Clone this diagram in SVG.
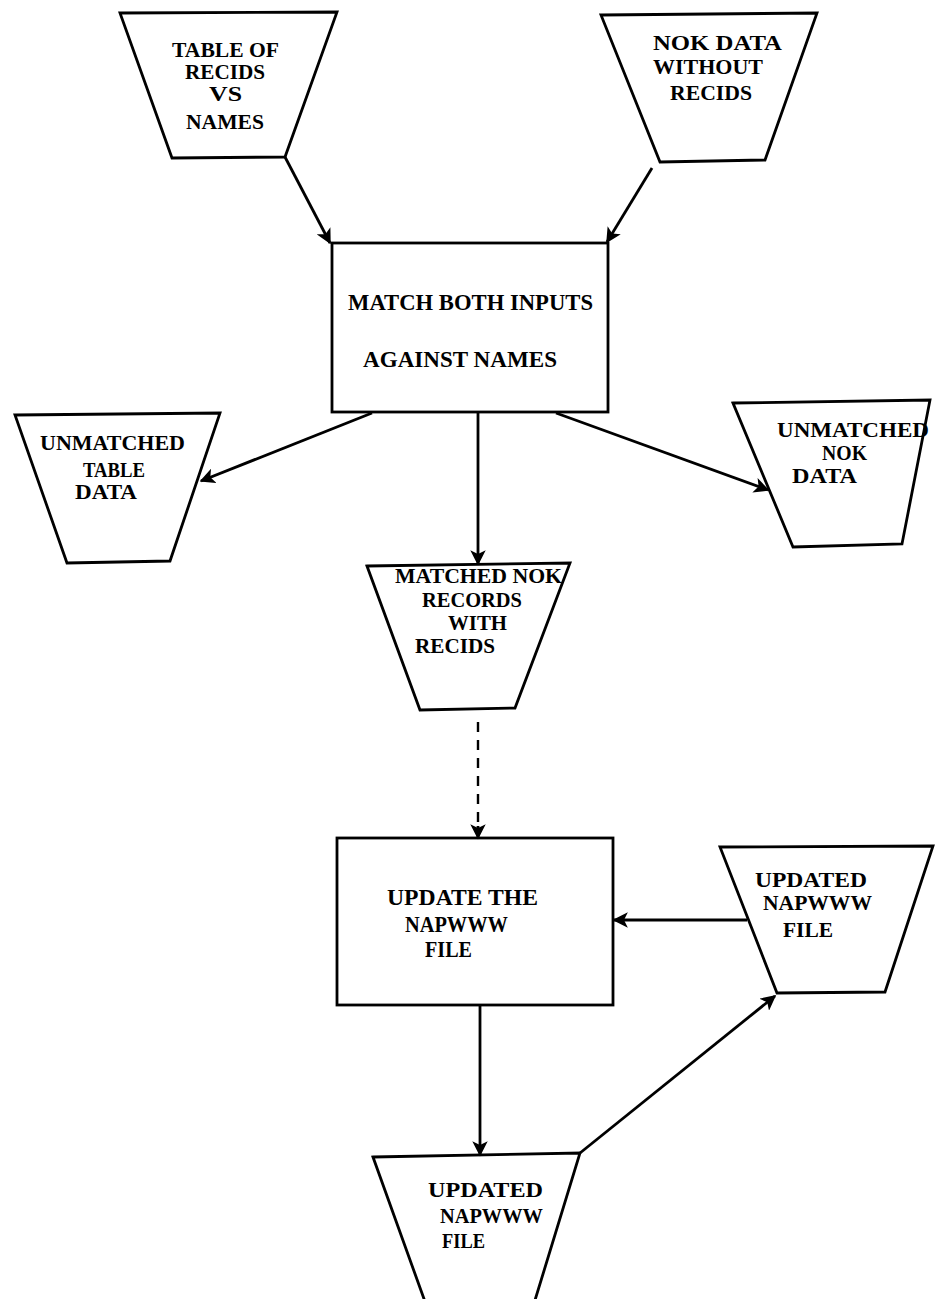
<svg xmlns="http://www.w3.org/2000/svg" width="937" height="1299" viewBox="0 0 937 1299">
<style>
.shape{fill:#fff;stroke:#000;stroke-width:2.8;stroke-linejoin:miter}
.lbl{font-family:"Liberation Serif","Times New Roman",serif;font-size:21px;font-weight:bold;fill:#000}
.big{font-size:23px}
.conn{stroke:#000;stroke-width:2.8;fill:none}
.dash{stroke:#000;stroke-width:2.4;fill:none;stroke-dasharray:10,8}
</style>
<defs>
<marker id="ah" viewBox="0 0 10 10" refX="9" refY="5" markerWidth="5.5" markerHeight="5.5" orient="auto" markerUnits="strokeWidth">
<path d="M0,0 L10,5 L0,10 L2.5,5 z" fill="#000"/>
</marker>
</defs>
<rect width="937" height="1299" fill="#fff"/>

<g id="n-table">
<polygon class="shape" points="120,13 337,12 285,157 172,158"/>
<text class="lbl" x="172" y="57" textLength="107" lengthAdjust="spacingAndGlyphs">TABLE OF</text>
<text class="lbl" x="185" y="79" textLength="80" lengthAdjust="spacingAndGlyphs">RECIDS</text>
<text class="lbl" x="209" y="101" textLength="33" lengthAdjust="spacingAndGlyphs">VS</text>
<text class="lbl" x="186" y="129" textLength="78" lengthAdjust="spacingAndGlyphs">NAMES</text>
</g>

<g id="n-nok">
<polygon class="shape" points="601,15 817,13 765,160 660,162"/>
<text class="lbl" x="653" y="50" textLength="129" lengthAdjust="spacingAndGlyphs">NOK DATA</text>
<text class="lbl" x="653" y="74" textLength="110" lengthAdjust="spacingAndGlyphs">WITHOUT</text>
<text class="lbl" x="670" y="100" textLength="82" lengthAdjust="spacingAndGlyphs">RECIDS</text>
</g>

<g id="p-match">
<rect class="shape" x="332" y="243" width="276" height="169"/>
<text class="lbl big" x="348" y="310" textLength="245" lengthAdjust="spacingAndGlyphs">MATCH BOTH INPUTS</text>
<text class="lbl big" x="363" y="367" textLength="194" lengthAdjust="spacingAndGlyphs">AGAINST NAMES</text>
</g>

<g id="n-unm-table">
<polygon class="shape" points="15,415 220,413 170,561 67,563"/>
<text class="lbl" x="40" y="450" textLength="145" lengthAdjust="spacingAndGlyphs">UNMATCHED</text>
<text class="lbl" x="83" y="477" textLength="62" lengthAdjust="spacingAndGlyphs">TABLE</text>
<text class="lbl" x="75" y="499" textLength="62" lengthAdjust="spacingAndGlyphs">DATA</text>
</g>

<g id="n-unm-nok">
<polygon class="shape" points="733,403 930,400 902,544 793,547"/>
<text class="lbl" x="777" y="437" textLength="152" lengthAdjust="spacingAndGlyphs">UNMATCHED</text>
<text class="lbl" x="822" y="460" textLength="45" lengthAdjust="spacingAndGlyphs">NOK</text>
<text class="lbl" x="792" y="483" textLength="65" lengthAdjust="spacingAndGlyphs">DATA</text>
</g>

<g id="n-matched">
<polygon class="shape" points="367,566 570,563 515,708 420,710"/>
<text class="lbl" x="395" y="583" textLength="167" lengthAdjust="spacingAndGlyphs">MATCHED NOK</text>
<text class="lbl" x="422" y="607" textLength="100" lengthAdjust="spacingAndGlyphs">RECORDS</text>
<text class="lbl" x="448" y="630" textLength="59" lengthAdjust="spacingAndGlyphs">WITH</text>
<text class="lbl" x="415" y="653" textLength="80" lengthAdjust="spacingAndGlyphs">RECIDS</text>
</g>

<g id="p-update">
<rect class="shape" x="337" y="838" width="276" height="167"/>
<text class="lbl big" x="387" y="905" textLength="151" lengthAdjust="spacingAndGlyphs">UPDATE THE</text>
<text class="lbl big" x="405" y="932" textLength="103" lengthAdjust="spacingAndGlyphs">NAPWWW</text>
<text class="lbl big" x="425" y="957" textLength="47" lengthAdjust="spacingAndGlyphs">FILE</text>
</g>

<g id="n-upd-right">
<polygon class="shape" points="720,847 933,846 885,992 777,993"/>
<text class="lbl" x="755" y="887" textLength="112" lengthAdjust="spacingAndGlyphs">UPDATED</text>
<text class="lbl" x="763" y="910" textLength="109" lengthAdjust="spacingAndGlyphs">NAPWWW</text>
<text class="lbl" x="783" y="937" textLength="50" lengthAdjust="spacingAndGlyphs">FILE</text>
</g>

<g id="n-upd-bottom">
<polygon class="shape" points="373,1157 580,1153 532,1310 428,1310"/>
<text class="lbl" x="428" y="1197" textLength="115" lengthAdjust="spacingAndGlyphs">UPDATED</text>
<text class="lbl" x="440" y="1223" textLength="103" lengthAdjust="spacingAndGlyphs">NAPWWW</text>
<text class="lbl" x="442" y="1248" textLength="43" lengthAdjust="spacingAndGlyphs">FILE</text>
</g>

<g id="connectors">
<line class="conn" x1="285" y1="157" x2="330" y2="243" marker-end="url(#ah)"/>
<line class="conn" x1="652" y1="168" x2="607" y2="242" marker-end="url(#ah)"/>
<line class="conn" x1="372" y1="413" x2="201" y2="481" marker-end="url(#ah)"/>
<line class="conn" x1="478" y1="412" x2="478" y2="564" marker-end="url(#ah)"/>
<line class="conn" x1="556" y1="413" x2="768" y2="490" marker-end="url(#ah)"/>
<line class="dash" x1="478" y1="722" x2="478" y2="828"/>
<line class="conn" x1="478" y1="826" x2="478" y2="838" marker-end="url(#ah)"/>
<line class="conn" x1="747" y1="920" x2="614" y2="920" marker-end="url(#ah)"/>
<line class="conn" x1="480" y1="1005" x2="480" y2="1155" marker-end="url(#ah)"/>
<line class="conn" x1="580" y1="1153" x2="775" y2="996" marker-end="url(#ah)"/>
</g>
</svg>
